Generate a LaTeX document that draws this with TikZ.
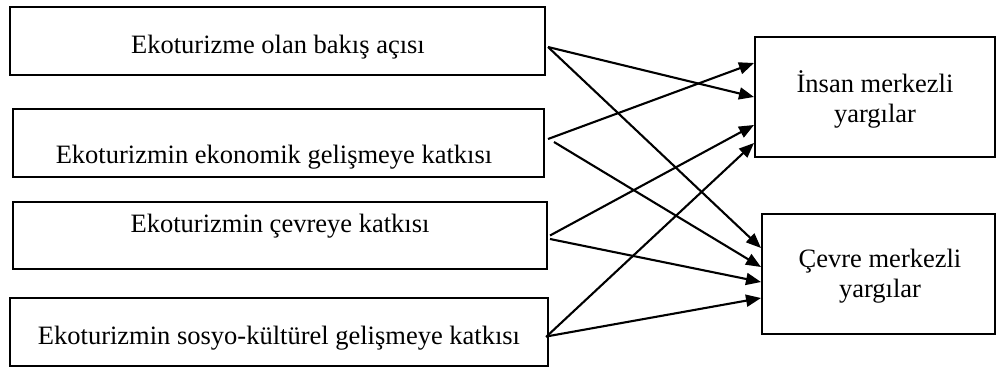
\documentclass[tikz,border=0pt]{standalone}
\usepackage{fontspec}
\setmainfont{Liberation Serif}
\usetikzlibrary{arrows.meta,calc}
\begin{document}
\begin{tikzpicture}[x=1pt,y=-1pt,
  box/.style={draw,line width=2pt,rectangle,inner sep=0pt},
  txt/.style={font=\fontsize{26.5}{30}\selectfont,inner sep=0pt,align=center},
  conn/.style={line width=2.1pt,-{Triangle[length=15pt,width=12pt]}}]
\useasboundingbox (0,0) rectangle (996,367);
% left boxes
\node[box,minimum width=535pt,minimum height=68pt] (b1) at (277.5,41) {};
\node[box,minimum width=531pt,minimum height=68pt] (b2) at (278.5,143) {};
\node[box,minimum width=534pt,minimum height=67pt] (b3) at (280,235.5) {};
\node[box,minimum width=538pt,minimum height=68pt] (b4) at (279,332) {};
% right boxes
\node[box,minimum width=240pt,minimum height=120pt] (r1) at (875,97) {};
\node[box,minimum width=233pt,minimum height=120pt] (r2) at (878.5,274) {};
% texts
\node[txt,anchor=base] (t1) at (278,53.5) {Ekoturizme olan bakış açısı};
\node[txt,anchor=base] (t2) at (274,163) {Ekoturizmin ekonomik gelişmeye katkısı};
\node[txt,anchor=base] (t3) at (280,232) {Ekoturizmin çevreye katkısı};
\node[txt,anchor=base] (t4) at (279,344) {Ekoturizmin sosyo-kültürel gelişmeye katkısı};
\node[txt] (t5) at (875,99) {İnsan merkezli\\yargılar};
\node[txt] (t6) at (880,276) {Çevre merkezli\\yargılar};
% start points
\coordinate (s1) at ([xshift=2pt,yshift=-6pt]b1.east);
\coordinate (s2a) at ([xshift=3pt,yshift=4pt]b2.east);
\coordinate (s2b) at ([xshift=9pt,yshift=1pt]b2.east);
\coordinate (s3a) at ([xshift=2pt,yshift=0pt]b3.east);
\coordinate (s3b) at ([xshift=2pt,yshift=-3.5pt]b3.east);
\coordinate (s4a) at ([xshift=-3pt,yshift=-5pt]b4.east);
\coordinate (s4b) at ([xshift=0pt,yshift=-4pt]b4.east);
% connectors
\draw[conn] (s1) -- ([yshift=0pt]r1.west);
\draw[conn] (s1) -- ([yshift=26pt]r2.west);
\draw[conn] (s2a) -- ([yshift=34pt]r1.west);
\draw[conn] (s2b) -- ([yshift=7pt]r2.west);
\draw[conn] (s3a) -- ([yshift=-28pt]r1.west);
\draw[conn] (s3b) -- ([yshift=-8pt]r2.west);
\draw[conn] (s4a) -- ([yshift=-46pt]r1.west);
\draw[conn] (s4b) -- ([yshift=-24pt]r2.west);
\end{tikzpicture}
\end{document}
